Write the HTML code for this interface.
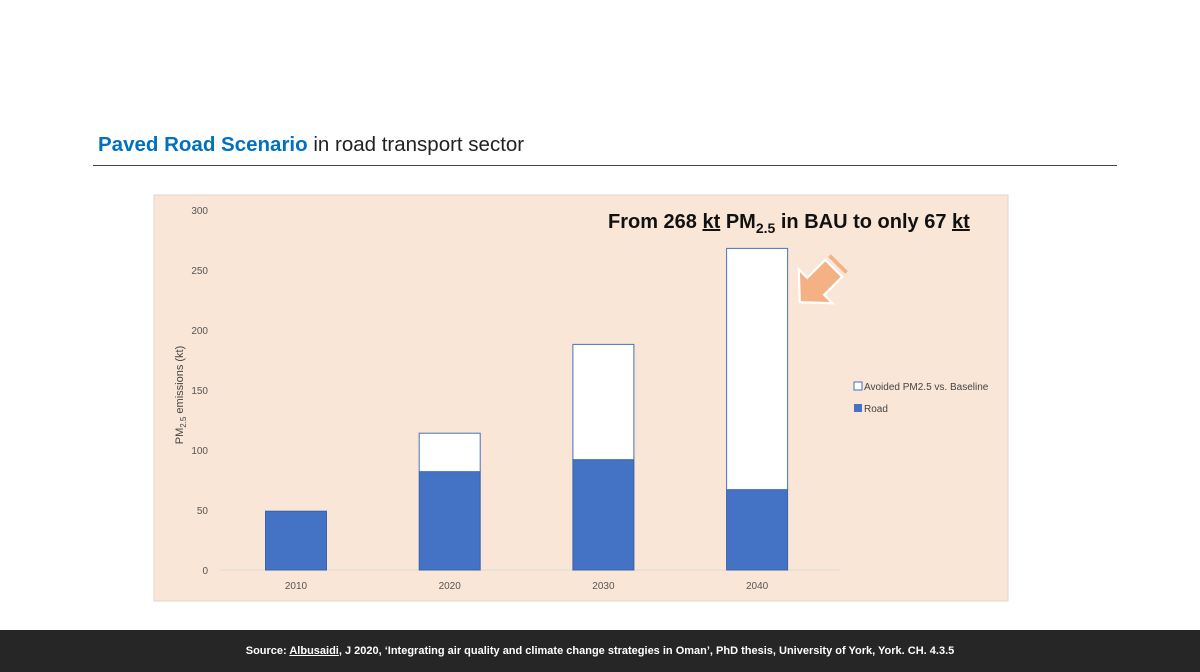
<!DOCTYPE html>
<html><head><meta charset="utf-8"><style>
body{margin:0;width:1200px;height:672px;background:#fff;position:relative;overflow:hidden;font-family:"Liberation Sans",sans-serif}
.t{position:absolute}
</style></head><body>
<div class="t" style="left:98px;top:133px;font-size:20.5px;color:#222"><span style="color:#0070c0;font-weight:bold">Paved Road Scenario</span> in road transport sector</div>
<div class="t" style="left:93px;top:165px;width:1024px;height:1px;background:#444"></div>
<svg class="t" style="left:0;top:0" width="1200" height="672" font-family="Liberation Sans, sans-serif">
<rect x="154" y="195" width="854" height="406" fill="#f9e6d6" stroke="#e0d6cc"/>
<g id="g"></g>
<text x="608" y="228" font-size="20" font-weight="bold" fill="#111">From 268 <tspan text-decoration="underline">kt</tspan> PM<tspan font-size="14" dy="5">2.5</tspan><tspan dy="-5"> in BAU to only 67 </tspan><tspan text-decoration="underline">kt</tspan></text>
<g transform="translate(821,281) rotate(135) scale(1.5)">
<polygon points="-12,-8 5,-8 5,-16 20,0 5,16 5,8 -12,8" fill="#f4b183" stroke="#fff" stroke-width="1.5"/>
<line x1="-16" y1="-8" x2="-16" y2="8" stroke="#f4b183" stroke-width="2.5"/>
</g>
<rect x="854" y="382" width="8" height="8" fill="#fff" stroke="#4472c4"/>
<text x="864" y="390" font-size="10" fill="#444">Avoided PM2.5 vs. Baseline</text>
<rect x="854" y="404" width="8" height="8" fill="#4472c4"/>
<text x="864" y="412" font-size="10" fill="#444">Road</text>
<text transform="translate(183,395) rotate(-90)" text-anchor="middle" font-size="11" fill="#444">PM<tspan font-size="8" dy="3">2.5</tspan><tspan dy="-3"> emissions (kt)</tspan></text>
</svg>
<div class="t" style="left:0;top:630px;width:1200px;height:42px;background:#262626"></div>
<div class="t" style="left:0;top:645px;width:1200px;text-align:center;color:#fff;font-size:11px;font-weight:bold">Source: <u>Albusaidi</u>, J 2020, ‘Integrating air quality and climate change strategies in Oman’, PhD thesis, University of York, York. CH. 4.3.5</div>
<script>
const categories=["2010","2020","2030","2040"];
const road=[49,82,92,67];
const avoided=[0,32,96,201];
const yTicks=[0,50,100,150,200,250,300];
const NS="http://www.w3.org/2000/svg",g=document.getElementById('g');
const y=v=>570-v*1.2, xc=i=>296+i*153.7, bw=61;
function mk(t,a){const e=document.createElementNS(NS,t);for(const k in a)e.setAttribute(k,a[k]);g.appendChild(e);return e;}
yTicks.forEach(v=>{const t=mk('text',{x:208,y:y(v)+4,'text-anchor':'end','font-size':10,fill:'#555'});t.textContent=v;

});
const ax=mk('line',{x1:220,y1:570,x2:840,y2:570,stroke:'#d9d9d9'});


categories.forEach((c,i)=>{
 const r=mk('rect',{x:xc(i)-bw/2,y:y(road[i]),width:bw,height:road[i]*1.2,fill:'#4472c4',stroke:'#3a62ad'});
 
 
 if(avoided[i]>0){const a=mk('rect',{x:xc(i)-bw/2,y:y(road[i]+avoided[i]),width:bw,height:avoided[i]*1.2,fill:'#fff',stroke:'#4472c4'});
 
 }
 const t=mk('text',{x:xc(i),y:589,'text-anchor':'middle','font-size':10,fill:'#555'});t.textContent=c;
 
 
});
</script>
</body></html>
